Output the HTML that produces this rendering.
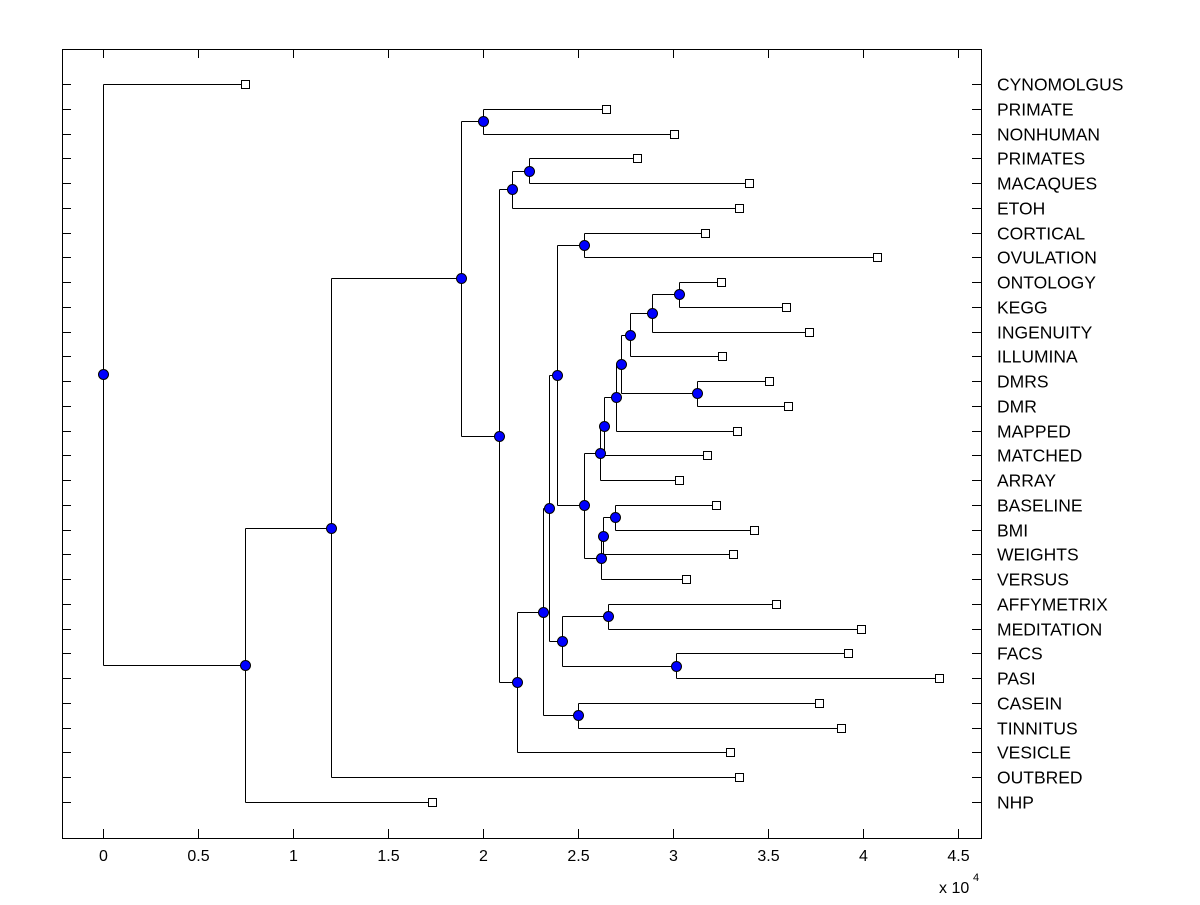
<!DOCTYPE html>
<html><head><meta charset="utf-8"><style>
body{margin:0;background:#fff;}
svg text{font-family:"Liberation Sans",Arial,sans-serif;font-size:16px;fill:#000;}
svg text.leaf{font-size:17.5px;}
</style></head><body>
<svg id="chart" width="1200" height="900" xmlns="http://www.w3.org/2000/svg">
<rect x="0" y="0" width="1200" height="900" fill="#fff"/>
<g id="plot"></g>
</svg>
<script>
const leafNames = ["CYNOMOLGUS","PRIMATE","NONHUMAN","PRIMATES","MACAQUES","ETOH","CORTICAL","OVULATION","ONTOLOGY","KEGG","INGENUITY","ILLUMINA","DMRS","DMR","MAPPED","MATCHED","ARRAY","BASELINE","BMI","WEIGHTS","VERSUS","AFFYMETRIX","MEDITATION","FACS","PASI","CASEIN","TINNITUS","VESICLE","OUTBRED","NHP"];
const leafValues = [0.747,2.647,3.005,2.81,3.40,3.347,3.168,4.074,3.253,3.595,3.716,3.258,3.505,3.605,3.337,3.179,3.032,3.226,3.426,3.316,3.068,3.542,3.989,3.921,4.40,3.768,3.884,3.30,3.347,1.732];
const nodeNames = ["root","A","B","C","D","E","F","H","G","J","K","L","P","Q","M","N","R","S","T","V","W","X","Z","Y","AA","BB","U","CC","DD"];
const nodeValues = [0,0.747,1.2,1.884,2.0,2.084,2.153,2.242,2.179,2.316,2.347,2.416,2.658,3.016,2.5,2.389,2.532,2.532,2.616,2.637,2.70,2.726,3.126,2.774,2.889,3.032,2.621,2.632,2.695];
const nodeChildA = ["CYNOMOLGUS","B","C","D","PRIMATE","F","H","PRIMATES","J","K","N","P","AFFYMETRIX","FACS","CASEIN","R","CORTICAL","T","V","W","X","Y","DMRS","AA","BB","ONTOLOGY","CC","DD","BASELINE"];
const nodeChildB = ["A","NHP","OUTBRED","E","NONHUMAN","G","ETOH","MACAQUES","VESICLE","M","L","Q","MEDITATION","PASI","TINNITUS","S","OVULATION","U","ARRAY","MATCHED","MAPPED","Z","DMR","ILLUMINA","INGENUITY","KEGG","VERSUS","WEIGHTS","BMI"];
const xTicks = [0,0.5,1,1.5,2,2.5,3,3.5,4,4.5];

const NS="http://www.w3.org/2000/svg";
const g=document.getElementById('plot');
const L=62,R=981,T=49,B=838;
const xs=v=>103+v*190;
const ys=i=>84+i*(802-84)/29;
function mk(tag,attrs){const e=document.createElementNS(NS,tag);for(const k in attrs)e.setAttribute(k,attrs[k]);g.appendChild(e);return e;}
function line(x1,y1,x2,y2){return mk('line',{x1,y1,x2,y2,stroke:'#000','stroke-width':1,'shape-rendering':'crispEdges'});}

const box=mk('rect',{x:L+0.5,y:T+0.5,width:R-L,height:B-T,fill:'none',stroke:'#000'});


xTicks.forEach(t=>{
  const x=Math.round(xs(t))+0.5;
  line(x,B,x,B-9);line(x,T,x,T+9);
  const tx=mk('text',{x:x,y:861,'text-anchor':'middle'});tx.textContent=String(t);
  
  
});
const ex=mk('text',{x:939,y:893});ex.textContent='x 10';


const sup=mk('text',{x:973,y:881,style:'font-size:11px'});sup.textContent='4';



const pos={};
leafNames.forEach((n,i)=>{
  pos[n]={x:xs(leafValues[i]),y:ys(i)};
  const y=Math.round(ys(i))+0.5;
  line(L,y,L+9,y);line(R-9,y,R,y);
  const tx=mk('text',{x:997,y:y+6,'class':'leaf'});tx.textContent=n;
  
  
});
function resolve(n){
  if(pos[n])return pos[n];
  const i=nodeNames.indexOf(n);
  const a=resolve(nodeChildA[i]),b=resolve(nodeChildB[i]);
  pos[n]={x:xs(nodeValues[i]),y:(a.y+b.y)/2};
  return pos[n];
}
nodeNames.forEach(n=>resolve(n));
nodeNames.forEach((n,i)=>{
  const p=pos[n],a=pos[nodeChildA[i]],b=pos[nodeChildB[i]];
  const px=Math.round(p.x)+0.5;
  line(px,Math.round(a.y)+0.5,px,Math.round(b.y)+0.5);
  [a,b].forEach(c=>line(px,Math.round(c.y)+0.5,Math.round(c.x)+0.5,Math.round(c.y)+0.5));
});
leafNames.forEach(n=>{
  const p=pos[n];
  const r=mk('rect',{x:Math.round(p.x)-4+0.5,y:Math.round(p.y)-4+0.5,width:8,height:8,fill:'#fff',stroke:'#000'});
  
  
});
nodeNames.forEach(n=>{
  const p=pos[n];
  const c=mk('circle',{cx:Math.round(p.x)+0.5,cy:Math.round(p.y)+0.5,r:5,fill:'#0000ff',stroke:'#000','stroke-width':1});
  
  
});
</script>
</body></html>
